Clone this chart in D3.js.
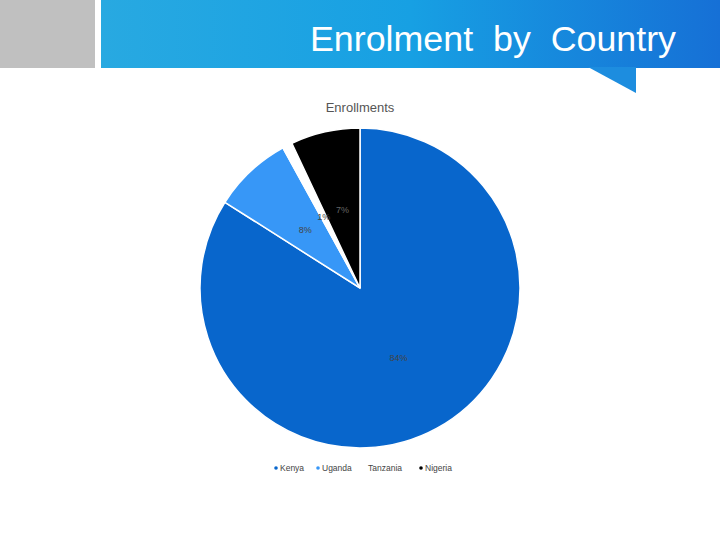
<!DOCTYPE html>
<html>
<head>
<meta charset="utf-8">
<script src="https://cdn.jsdelivr.net/npm/d3@7"></script>
<style>
  body { margin: 0; background: #fff; }
  svg { display: block; font-family: "Liberation Sans", Arial, sans-serif; }
</style>
</head>
<body>
<svg id="Chart" width="720" height="540"></svg>
<script>
var countries = ["Kenya", "Uganda", "Tanzania", "Nigeria"];
var enrolment = [84, 8, 1, 7];
var labels = ["84%", "8%", "1%", "7%"];
var sliceColors = ["#0866cc", "#3797f7", "#ffffff", "#000000"];

var svg = d3.select("#Chart"),
    width = +svg.attr("width");

// slide header
var defs = svg.append("defs");
var grad = defs.append("linearGradient").attr("id", "band")
    .attr("x1", "0%").attr("x2", "100%").attr("y1", "0%").attr("y2", "0%");
grad.append("stop").attr("offset", "0%").attr("stop-color", "#28a9e1");
grad.append("stop").attr("offset", "50%").attr("stop-color", "#17a0e3");
grad.append("stop").attr("offset", "100%").attr("stop-color", "#1670d6");

svg.append("rect").attr("x", 0).attr("y", 0).attr("width", 95).attr("height", 68).attr("fill", "#c0c0c0");
svg.append("rect").attr("x", 101).attr("y", 0).attr("width", width - 101).attr("height", 68).attr("fill", "url(#band)");
svg.append("path").attr("d", "M588,67 L636,67 L636,93 Z").attr("fill", "#1d8ddf");

svg.append("text")
    .attr("x", 676).attr("y", 51)
    .attr("text-anchor", "end")
    .attr("fill", "#fff")
    .attr("font-size", 35)
    .attr("textLength", 366)
    .attr("lengthAdjust", "spacingAndGlyphs")
    .style("white-space", "pre")
    .text("Enrolment  by  Country");

// chart title
svg.append("text")
    .attr("x", 360).attr("y", 112)
    .attr("text-anchor", "middle")
    .attr("fill", "#555")
    .attr("font-size", 13)
    .text("Enrollments");

// pie
var cx = 360, cy = 288, radius = 160;
var color = d3.scaleOrdinal().domain(countries).range(sliceColors);

var pie = d3.pie().sort(null).value(function(d) { return d.value; });
var data = countries.map(function(c, i) { return { name: c, value: enrolment[i], label: labels[i] }; });
var arcs = pie(data);

var arc = d3.arc().innerRadius(0).outerRadius(radius);
var labelArc = d3.arc().innerRadius(radius * 0.5).outerRadius(radius * 0.5);

var g = svg.append("g").attr("transform", "translate(" + cx + "," + cy + ")");

g.selectAll("path")
    .data(arcs)
    .enter().append("path")
      .attr("d", arc)
      .attr("fill", function(d) { return color(d.data.name); })
      .attr("stroke", "#fff")
      .attr("stroke-width", 1.5);

g.selectAll("text")
    .data(arcs)
    .enter().append("text")
      .attr("transform", function(d) { return "translate(" + labelArc.centroid(d) + ")"; })
      .attr("text-anchor", "middle")
      .attr("dy", "0.35em")
      .attr("font-size", 9)
      .attr("fill", function(d) { return d.data.name == "Nigeria" ? "#666" : "#444"; })
      .text(function(d) { return d.data.label; });

// legend
var legendX = [276, 318, 364, 421];
var legend = svg.append("g").selectAll("g")
    .data(countries)
    .enter().append("g")
      .attr("transform", function(d, i) { return "translate(" + legendX[i] + ",468)"; });

legend.append("circle")
    .attr("r", 1.8)
    .attr("fill", function(d) { return color(d); });

legend.append("text")
    .attr("x", 4)
    .attr("dy", "0.35em")
    .attr("font-size", 8.5)
    .attr("fill", "#444")
    .text(function(d) { return d; });
</script>
</body>
</html>
